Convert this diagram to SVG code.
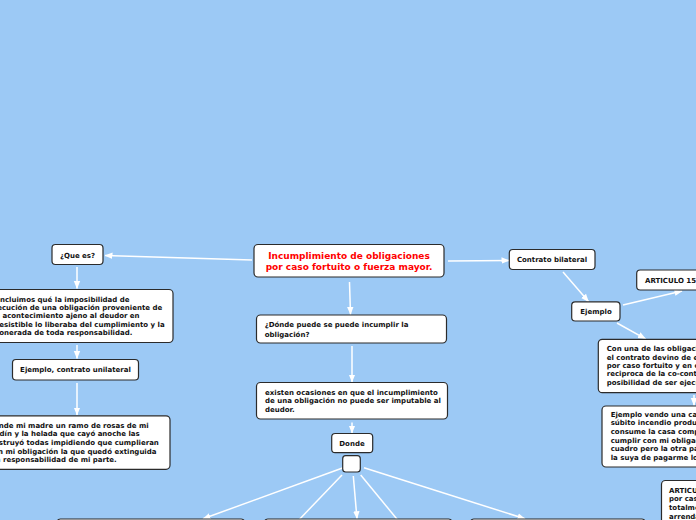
<svg xmlns="http://www.w3.org/2000/svg" width="696" height="520" viewBox="0 0 696 520">
<style>
.n{fill:#fff;stroke:#2b2b2b;stroke-width:1.2}
.t{font-family:"DejaVu Sans",Verdana,sans-serif;font-weight:bold;font-size:7px;fill:#111}
.c{text-anchor:middle}
.title{font-family:"DejaVu Sans",Verdana,sans-serif;font-weight:bold;font-size:9px;fill:#f00;text-anchor:middle}
.e{fill:none;stroke:#fff;stroke-width:1.5}
</style>
<defs>
<marker id="ah" markerUnits="userSpaceOnUse" markerWidth="8" markerHeight="8" viewBox="0 0 8 8" refX="7.5" refY="4" orient="auto">
<path d="M0,0.8 L8,4 L0,7.2 Z" fill="#fff"/>
</marker>
</defs>
<rect width="696" height="520" fill="#9cc9f5"/>
<g id="connectors">
<line class="e" x1="252" y1="260" x2="105" y2="255.5" marker-end="url(#ah)"/>
<line class="e" x1="77" y1="267" x2="77" y2="288.5" marker-end="url(#ah)"/>
<line class="e" x1="77" y1="345" x2="77" y2="358.5" marker-end="url(#ah)"/>
<line class="e" x1="77" y1="383" x2="77" y2="415" marker-end="url(#ah)"/>
<line class="e" x1="349.5" y1="282" x2="350.5" y2="314.5" marker-end="url(#ah)"/>
<line class="e" x1="352" y1="346" x2="352" y2="382" marker-end="url(#ah)"/>
<line class="e" x1="352" y1="422.5" x2="352" y2="433" marker-end="url(#ah)"/>
<line class="e" x1="448" y1="261" x2="509" y2="260.5" marker-end="url(#ah)"/>
<line class="e" x1="563" y1="272" x2="588.5" y2="301.5" marker-end="url(#ah)"/>
<line class="e" x1="623" y1="305" x2="682" y2="291" marker-end="url(#ah)"/>
<line class="e" x1="617" y1="323" x2="645.5" y2="338.8" marker-end="url(#ah)"/>
<line class="e" x1="694" y1="395" x2="694" y2="405.5" marker-end="url(#ah)"/>
<line class="e" x1="342.5" y1="468" x2="203" y2="518.8" marker-end="url(#ah)"/>
<line class="e" x1="342" y1="475" x2="295" y2="524"/>
<line class="e" x1="353.3" y1="476" x2="357" y2="518.8" marker-end="url(#ah)"/>
<line class="e" x1="360.7" y1="475" x2="401" y2="524"/>
<line class="e" x1="364" y1="467.7" x2="525" y2="518.8" marker-end="url(#ah)"/>
</g>
<g id="n-title">
<rect class="n" x="254" y="244.5" width="190" height="32.5" rx="4"/>
<text class="title" x="349" y="259">Incumplimiento de obligaciones</text>
<text class="title" x="349" y="270">por caso fortuito o fuerza mayor.</text>
</g>
<g id="n-quees">
<rect class="n" x="52" y="244.5" width="51" height="20" rx="3.5"/>
<text class="t c" x="77.5" y="257.5">¿Que es?</text>
</g>
<g id="n-concluimos">
<rect class="n" x="-19" y="289.5" width="192" height="53" rx="4"/>
<text class="t" x="-10" y="302">Concluimos qué la imposibilidad de</text>
<text class="t" x="-10" y="310.2">ejecución de una obligación proveniente de</text>
<text class="t" x="-10" y="318.4">un acontecimiento ajeno al deudor en</text>
<text class="t" x="-10" y="326.6">irresistible lo liberaba del cumplimiento y la</text>
<text class="t" x="-10" y="334.8">exonerada de toda responsabilidad.</text>
</g>
<g id="n-unilateral">
<rect class="n" x="12.5" y="359.5" width="126" height="20.5" rx="3.5"/>
<text class="t c" x="75.5" y="372">Ejemplo, contrato unilateral</text>
</g>
<g id="n-ejemplo1">
<rect class="n" x="-19" y="415.8" width="189" height="53.5" rx="4"/>
<text class="t" x="-11" y="427.5">Vende mi madre un ramo de rosas de mi</text>
<text class="t" x="-11" y="436.2">jardín y la helada que cayó anoche las</text>
<text class="t" x="-11" y="444.9">destruyó todas impidiendo que cumplieran</text>
<text class="t" x="-11" y="453.6">con mi obligación la que quedó extinguida</text>
<text class="t" x="-11" y="462.3">sin responsabilidad de mi parte.</text>
</g>
<g id="n-donde-puede">
<rect class="n" x="256.5" y="315" width="190" height="28" rx="4"/>
<text class="t" x="264.7" y="327.2">¿Dónde puede se puede incumplir la</text>
<text class="t" x="264.7" y="336.6">obligación?</text>
</g>
<g id="n-existen">
<rect class="n" x="256.5" y="382.5" width="191" height="36.5" rx="4"/>
<text class="t" x="265" y="395">existen ocasiones en que el incumplimiento</text>
<text class="t" x="265" y="403.3">de una obligación no puede ser imputable al</text>
<text class="t" x="265" y="411.6">deudor.</text>
</g>
<g id="n-donde">
<rect class="n" x="331.7" y="433.5" width="41" height="19.2" rx="3.5"/>
<text class="t c" x="352" y="446">Donde</text>
</g>
<g id="n-empty">
<rect class="n" x="342.7" y="455.7" width="17.6" height="16.3" rx="3"/>
</g>
<g id="n-bottom1"><rect class="n" x="57.3" y="519" width="187" height="20" rx="3"/></g>
<g id="n-bottom2"><rect class="n" x="264.7" y="519" width="187" height="20" rx="3"/></g>
<g id="n-bottom3"><rect class="n" x="470.7" y="519" width="174.3" height="20" rx="3"/></g>
<g id="n-bilateral">
<rect class="n" x="509.3" y="249.5" width="85.7" height="20" rx="3.5"/>
<text class="t c" x="552" y="262">Contrato bilateral</text>
</g>
<g id="n-ejemplo2">
<rect class="n" x="571.7" y="301.8" width="48.3" height="19.2" rx="3.5"/>
<text class="t c" x="596" y="314">Ejemplo</text>
</g>
<g id="n-articulo1">
<rect class="n" x="636.7" y="270" width="70" height="20" rx="3.5"/>
<text class="t" x="645" y="283">ARTICULO 15</text>
</g>
<g id="n-conuna">
<rect class="n" x="598.3" y="339.3" width="110" height="53.4" rx="4"/>
<text class="t" x="606.7" y="351.3">Con una de las obligaciones</text>
<text class="t" x="606.7" y="359.6">el contrato devino de ejecución</text>
<text class="t" x="606.7" y="367.9">por caso fortuito y en consecuencia</text>
<text class="t" x="606.7" y="376.2">reciproca de la co-contratante</text>
<text class="t" x="606.7" y="384.5">posibilidad de ser ejecutada</text>
</g>
<g id="n-vendo">
<rect class="n" x="602" y="406" width="110" height="61" rx="4"/>
<text class="t" x="610.7" y="416.5">Ejemplo vendo una casa</text>
<text class="t" x="610.7" y="425.2">súbito incendio producido</text>
<text class="t" x="610.7" y="433.9">consume la casa completa</text>
<text class="t" x="610.7" y="442.6">cumplir con mi obligación</text>
<text class="t" x="610.7" y="451.3">cuadro pero la otra parte</text>
<text class="t" x="610.7" y="460">la suya de pagarme lo</text>
</g>
<g id="n-articulo2">
<rect class="n" x="661.5" y="480.5" width="60" height="50" rx="4"/>
<text class="t" x="669" y="492.5">ARTICULO</text>
<text class="t" x="669" y="501.2">por caso</text>
<text class="t" x="669" y="509.9">totalmente</text>
<text class="t" x="669" y="518.6">arrendamiento</text>
</g>
</svg>
